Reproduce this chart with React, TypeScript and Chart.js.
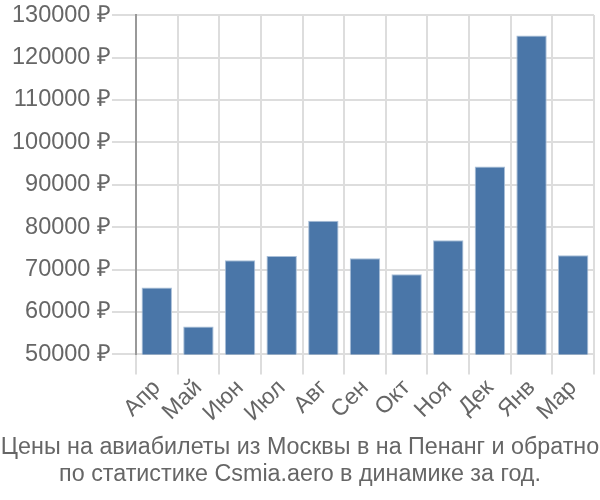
import React, { useEffect, useRef } from "react";
import { Chart, registerables } from "chart.js";

Chart.register(...registerables);

const months = ["Апр", "Май", "Июн", "Июл", "Авг", "Сен", "Окт", "Ноя", "Дек", "Янв", "Мар"];
const prices = [65800, 56600, 72200, 73200, 81500, 72700, 68900, 76900, 94300, 125200, 73400];
const titleLines = [
  "Цены на авиабилеты из Москвы в на Пенанг и обратно",
  "по статистике Csmia.aero в динамике за год.",
];

export default function App() {
  const ref = useRef<HTMLCanvasElement>(null);
  useEffect(() => {
    document.body.style.margin = "0";
    const font = "'Liberation Sans', Arial, sans-serif";
    const chart = new Chart(ref.current!, {
      type: "bar",
      data: {
        labels: months,
        datasets: [
          {
            data: prices,
            backgroundColor: "#4a76a8",
            borderColor: "#a9bfd8",
            borderWidth: 1,
            barPercentage: 0.73,
            categoryPercentage: 1,
          },
        ],
      },
      options: {
        animation: false,
        responsive: true,
        maintainAspectRatio: false,
        layout: { padding: 0 },
        plugins: {
          legend: { display: false },
          tooltip: { enabled: false },
          title: {
            display: true,
            position: "bottom",
            text: titleLines,
            color: "#666",
            font: { family: font, size: 23.3, weight: "normal", lineHeight: 1.16 },
            padding: { top: 7, bottom: 12 },
          },
        },
        scales: {
          x: {
            grid: { color: "#ddd", lineWidth: 2, tickLength: 20, offset: true },
            border: { color: "#ddd", width: 2 },
            ticks: {
              color: "#666",
              font: { family: font, size: 23 },
              maxRotation: 45,
              minRotation: 45,
              autoSkip: false,
              padding: 0,
            },
          },
          y: {
            min: 50000,
            max: 130000,
            grid: { color: "#ddd", lineWidth: 2, tickLength: 24 },
            border: { color: "#999", width: 2 },
            ticks: {
              stepSize: 10000,
              color: "#666",
              font: { family: font, size: 23.5 },
              padding: 1,
              callback: (v: any) => v + " ₽",
            },
            afterFit: (s: any) => {
              s.width += 11;
            },
          },
          yRight: {
            position: "right",
            display: true,
            grid: { display: false, drawTicks: false },
            border: { display: false },
            ticks: { display: false },
            afterFit: (s: any) => {
              s.width = 6;
            },
          },
        },
      },
    });
    return () => chart.destroy();
  }, []);
  return (
    <div style={{ width: 600, height: 500, position: "relative" }}>
      <canvas ref={ref} />
    </div>
  );
}
